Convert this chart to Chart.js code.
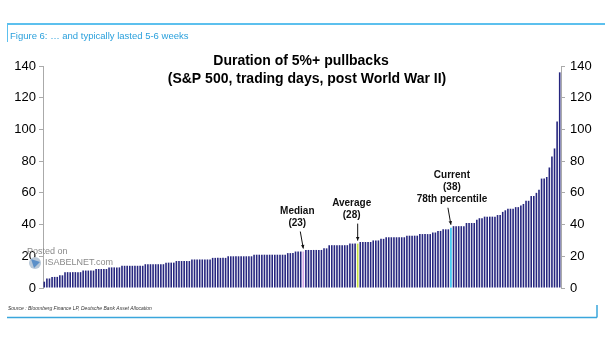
<!DOCTYPE html>
<html>
<head>
<meta charset="utf-8">
<script src="https://cdn.jsdelivr.net/npm/chart.js@4/dist/chart.umd.min.js"></script>
<style>
  html, body { margin: 0; padding: 0; background: #fff; }
  #wrap { position: relative; width: 605px; height: 341px; }
</style>
</head>
<body>
<div id="wrap"><canvas id="pullbackChart" width="605" height="341"></canvas></div>
<script>
  // pullback durations in trading days, sorted
  const durations = [
    4, 6, 6, 7, 7, 7, 8, 8,
    10, 10, 10, 10, 10, 10, 10,
    11, 11, 11, 11, 11,
    12, 12, 12, 12, 12,
    13, 13, 13, 13, 13,
    14, 14, 14, 14, 14, 14, 14, 14, 14,
    15, 15, 15, 15, 15, 15, 15, 15,
    16, 16, 16, 16,
    17, 17, 17, 17, 17, 17,
    18, 18, 18, 18, 18, 18, 18, 18,
    19, 19, 19, 19, 19, 19,
    20, 20, 20, 20, 20, 20, 20, 20, 20, 20,
    21, 21, 21, 21, 21, 21, 21, 21, 21, 21, 21, 21, 21,
    22, 22, 22,
    23, 23, 23, 23,
    24, 24, 24, 24, 24, 24, 24,
    25, 25,
    27, 27, 27, 27, 27, 27, 27, 27,
    28, 28, 28, 28,
    29, 29, 29, 29, 29,
    30, 30, 30,
    31, 31,
    32, 32, 32, 32, 32, 32, 32, 32,
    33, 33, 33, 33, 33,
    34, 34, 34, 34, 34,
    35, 35, 36, 36,
    37, 37, 37,
    38,
    39, 39, 39, 39, 39,
    41, 41, 41, 41,
    43, 44, 44,
    45, 45, 45, 45, 45,
    46, 46, 48, 49,
    50, 50, 50, 51, 51, 52, 53,
    55, 55, 58, 58, 60, 62,
    69, 69, 70, 76, 83, 88, 105, 136
  ];
  const yTicks = [0, 20, 40, 60, 80, 100, 120, 140];

  // highlighted bars: median, average, current
  const markerIndex = [100, 121, 157];
  const markerLines = [['Median', '(23)'], ['Average', '(28)'], ['Current', '(38)', '78th percentile']];
  const markerColors = ['#d7a8e8', '#c9e23c', '#2fc6f2'];

  const barColor = '#26267f';
  const colors = durations.map((v, i) => {
    const k = markerIndex.indexOf(i);
    return k >= 0 ? markerColors[k] : barColor;
  });

  const fontFamily = '"Liberation Sans", Arial, sans-serif';

  const decorPlugin = {
    id: 'decor',
    afterDraw: (chart) => {
      const ctx = chart.ctx;
      const xs = chart.scales.x;
      const ys = chart.scales.y;
      ctx.save();

      // frame lines
      ctx.strokeStyle = '#5cc0ee';
      ctx.lineWidth = 2;
      ctx.beginPath();
      ctx.moveTo(7, 24); ctx.lineTo(605, 24);
      ctx.stroke();
      ctx.lineWidth = 1;
      ctx.beginPath();
      ctx.moveTo(7.5, 24); ctx.lineTo(7.5, 42);
      ctx.stroke();
      ctx.strokeStyle = '#3aa6dc';
      ctx.lineWidth = 1.5;
      ctx.beginPath();
      ctx.moveTo(7, 317.5); ctx.lineTo(597, 317.5);
      ctx.moveTo(597, 317.5); ctx.lineTo(597, 305);
      ctx.stroke();

      ctx.fillStyle = '#2aa0dc';
      ctx.font = '9.5px ' + fontFamily;
      ctx.textAlign = 'left';
      ctx.textBaseline = 'middle';
      ctx.fillText('Figure 6: \u2026 and typically lasted 5-6 weeks', 10, 36);

      ctx.fillStyle = '#333';
      ctx.font = 'italic 5px ' + fontFamily;
      ctx.fillText('Source : Bloomberg Finance LP, Deutsche Bank Asset Allocation', 8, 309);

      // title
      ctx.fillStyle = '#000';
      ctx.textAlign = 'center';
      ctx.font = 'bold 14px ' + fontFamily;
      ctx.fillText('Duration of 5%+ pullbacks', 301, 61);
      ctx.fillText('(S&P 500, trading days, post World War II)', 307, 79);

      // watermark
      ctx.fillStyle = '#8a8a8a';
      ctx.textAlign = 'left';
      ctx.font = '9px ' + fontFamily;
      ctx.fillText('Posted on', 27, 252);
      ctx.fillText('ISABELNET.com', 45, 263);
      ctx.fillStyle = '#b8c8d8';
      ctx.beginPath();
      ctx.arc(35, 263, 6, 0, Math.PI * 2);
      ctx.fill();
      ctx.fillStyle = '#5b8fc8';
      ctx.beginPath();
      ctx.moveTo(31, 259); ctx.lineTo(40, 262); ctx.lineTo(34, 268);
      ctx.closePath();
      ctx.fill();

      // marker annotations
      ctx.fillStyle = '#111';
      ctx.strokeStyle = '#111';
      ctx.lineWidth = 1;
      ctx.font = 'bold 10px ' + fontFamily;
      ctx.textAlign = 'center';
      const textShift = [-3, -6, 4];
      const startShift = [-3, 0, -3];
      markerIndex.forEach((idx, k) => {
        const bx = xs.getPixelForValue(idx);
        const by = ys.getPixelForValue(durations[idx]);
        const tipY = by - 3;
        const startY = by - 20;
        const sx = bx + startShift[k];
        ctx.beginPath();
        ctx.moveTo(sx, startY);
        ctx.lineTo(bx, tipY);
        ctx.stroke();
        const ang = Math.atan2(tipY - startY, bx - sx);
        ctx.beginPath();
        ctx.moveTo(bx, tipY);
        ctx.lineTo(bx - 4 * Math.cos(ang - 0.45), tipY - 4 * Math.sin(ang - 0.45));
        ctx.lineTo(bx - 4 * Math.cos(ang + 0.45), tipY - 4 * Math.sin(ang + 0.45));
        ctx.closePath();
        ctx.fill();
        const lines = markerLines[k];
        lines.forEach((t, j) => {
          ctx.fillText(t, sx + textShift[k], startY - 8 - (lines.length - 1 - j) * 12);
        });
      });

      ctx.restore();
    }
  };

  const ctx = document.getElementById('pullbackChart').getContext('2d');
  new Chart(ctx, {
    type: 'bar',
    data: {
      labels: durations.map((v, i) => i + 1),
      datasets: [{
        data: durations,
        backgroundColor: colors,
        barPercentage: 0.62,
        categoryPercentage: 1
      }]
    },
    options: {
      responsive: false,
      animation: false,
      events: [],
      layout: { padding: { top: 66, bottom: 53, left: 0, right: 0 } },
      plugins: {
        legend: { display: false },
        tooltip: { enabled: false },
        title: { display: false }
      },
      scales: {
        x: { display: false, offset: true },
        y: {
          position: 'left',
          min: 0, max: 140,
          afterBuildTicks: (s) => { s.ticks = yTicks.map(v => ({ value: v })); },
          afterFit: (s) => { s.width = 43; },
          ticks: { color: '#000', font: { size: 13, family: fontFamily }, padding: 3 },
          grid: { drawOnChartArea: false, drawTicks: true, tickLength: 4, color: '#aaa' },
          border: { display: true, color: '#aaa' }
        },
        y2: {
          position: 'right',
          min: 0, max: 140,
          afterBuildTicks: (s) => { s.ticks = yTicks.map(v => ({ value: v })); },
          afterFit: (s) => { s.width = 44; },
          ticks: { color: '#000', font: { size: 13, family: fontFamily }, padding: 5 },
          grid: { drawOnChartArea: false, drawTicks: true, tickLength: 4, color: '#aaa' },
          border: { display: true, color: '#aaa' }
        }
      }
    },
    plugins: [decorPlugin]
  });
</script>
</body>
</html>
